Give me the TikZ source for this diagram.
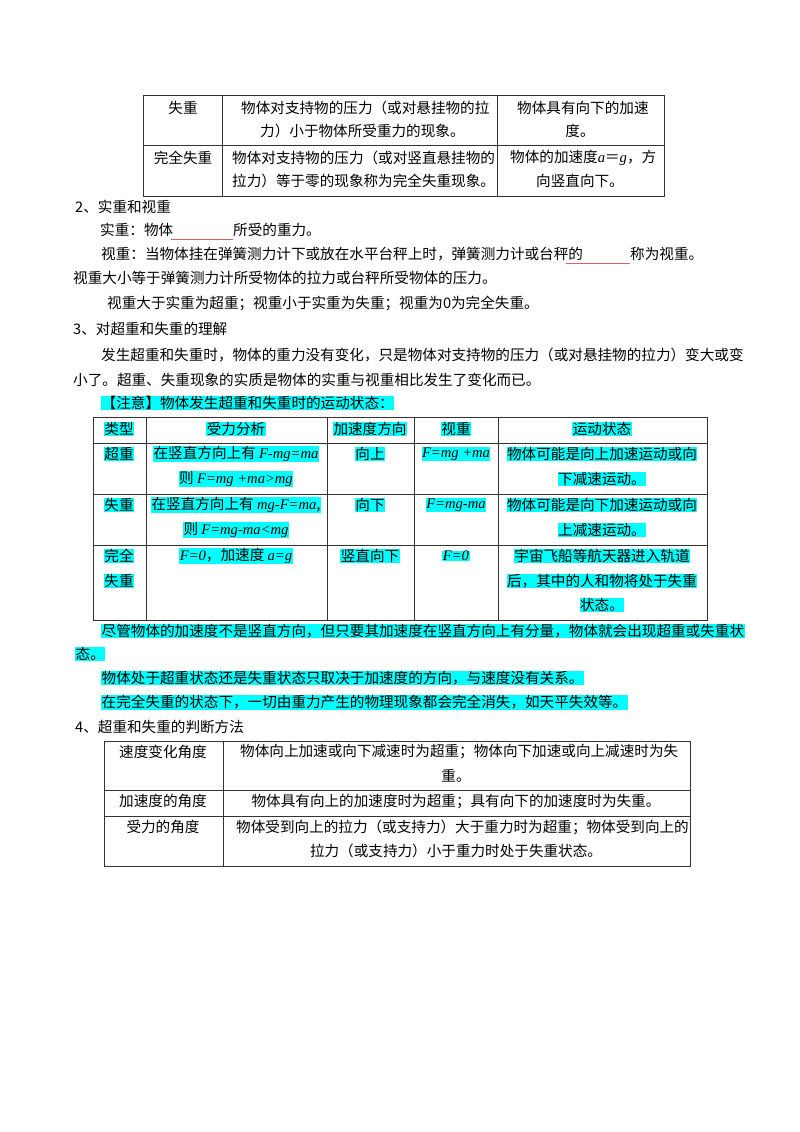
\documentclass[tikz,border=0pt]{standalone}
\usepackage{fontspec}
\setmainfont{Noto Sans CJK SC}
\newfontfamily\lat{Liberation Serif}
\newcommand{\mi}[1]{{\lat\itshape #1}}
\definecolor{hlcyan}{RGB}{0,255,255}
\definecolor{blankred}{RGB}{235,90,90}
\begin{document}
\begin{tikzpicture}[x=1pt,y=-1pt,font=\fontsize{14.6}{17}\selectfont,
  t/.style={inner sep=0pt,anchor=west},
  c/.style={inner sep=0pt,anchor=center},
  hl/.style={fill=hlcyan,inner sep=0.5pt},
  grid/.style={draw=black!80,line width=0.7pt},
  blank/.style={draw=blankred,line width=1pt}]
\useasboundingbox[fill=white] (0,0) rectangle (800,1132);
% table 1
\draw[grid] (143,95) rectangle (664,196);
\draw[grid] (143,145) -- (664,145) (222,95) -- (222,196) (497,95) -- (497,196);
\node[c] (a1) at (183,108) {失重};
\node[t] (a2) at (241,108) {物体对支持物的压力（或对悬挂物的拉};
\node[t] (a3) at (260,131) {力）小于物体所受重力的现象。};
\node[t] (a4) at (517,108) {物体具有向下的加速};
\node[c] (a5) at (580,131) {度。};
\node[c] (b1) at (183,158) {完全失重};
\node[t] (b2) at (232,158) {物体对支持物的压力（或对竖直悬挂物的};
\node[t] (b3) at (232,181) {拉力）等于零的现象称为完全失重现象。};
\node[t] (b4) at (510,158) {物体的加速度\mi{a}＝\mi{g}，方};
\node[t] (b5) at (536,181) {向竖直向下。};
% section 2
\node[t] (s2) at (75,207) {2、实重和视重};
\node[t] (l1) at (100,230) {实重：物体};
\coordinate (k1a) at (171,239); \coordinate (k1b) at (233,239);
\draw[blank] (k1a) -- (k1b);
\node[t] (l1b) at (233,230) {所受的重力。};
\node[t] (l2) at (101,254) {视重：当物体挂在弹簧测力计下或放在水平台秤上时，弹簧测力计或台秤的};
\coordinate (k2a) at (566,263); \coordinate (k2b) at (630,263);
\draw[blank] (k2a) -- (k2b);
\node[t] (l2b) at (630,254) {称为视重。};
\node[t] (l3) at (73,278) {视重大小等于弹簧测力计所受物体的拉力或台秤所受物体的压力。};
\node[t] (l4) at (107,303) {视重大于实重为超重；视重小于实重为失重；视重为0为完全失重。};
\node[t] (s3) at (73,329) {3、对超重和失重的理解};
\node[t] (l5) at (101,355) {发生超重和失重时，物体的重力没有变化，只是物体对支持物的压力（或对悬挂物的拉力）变大或变};
\node[t] (l6) at (73,380) {小了。超重、失重现象的实质是物体的实重与视重相比发生了变化而已。};
\node[t,hl] (l7) at (101,403) {【注意】物体发生超重和失重时的运动状态：};
% table 2
\draw[grid] (93,417) rectangle (707,620);
\draw[grid] (93,443) -- (707,443) (93,494) -- (707,494) (93,545) -- (707,545);
\draw[grid] (146,417) -- (146,620) (327,417) -- (327,620) (414,417) -- (414,620) (498,417) -- (498,620);
\node[c,hl] (h1) at (119,429) {类型};
\node[c,hl] (h2) at (236,429) {受力分析};
\node[c,hl] (h3) at (370,429) {加速度方向};
\node[c,hl] (h4) at (456,429) {视重};
\node[c,hl] (h5) at (602,429) {运动状态};
\node[c,hl] (r11) at (119,454) {超重};
\node[c,hl] (r12) at (236,454) {在竖直方向上有 \mi{F-mg=ma}};
\node[c,hl] (r12b) at (236,479) {则 \mi{F=mg +ma>mg}};
\node[c,hl] (r13) at (370,454) {向上};
\node[c,hl] (r14) at (456,454) {\mi{F=mg +ma}};
\node[c,hl] (r15) at (602,454) {物体可能是向上加速运动或向};
\node[c,hl] (r15b) at (602,479) {下减速运动。};
\node[c,hl] (r21) at (119,505) {失重};
\node[c,hl] (r22) at (236,505) {在竖直方向上有 \mi{mg-F=ma},};
\node[c,hl] (r22b) at (236,530) {则 \mi{F=mg-ma<mg}};
\node[c,hl] (r23) at (370,505) {向下};
\node[c,hl] (r24) at (456,505) {\mi{F=mg-ma}};
\node[c,hl] (r25) at (602,505) {物体可能是向下加速运动或向};
\node[c,hl] (r25b) at (602,530) {上减速运动。};
\node[c,hl] (r31) at (119,556) {完全};
\node[c,hl] (r31b) at (119,581) {失重};
\node[c,hl] (r32) at (236,556) {\mi{F=0}，加速度 \mi{a=g}};
\node[c,hl] (r33) at (370,556) {竖直向下};
\node[c,hl] (r34) at (456,556) {\mi{F=0}};
\node[c,hl] (r35) at (602,556) {宇宙飞船等航天器进入轨道};
\node[c,hl] (r35b) at (602,581) {后，其中的人和物将处于失重};
\node[c,hl] (r35c) at (602,605) {状态。};
% notes
\node[t,hl] (n1) at (101,631) {尽管物体的加速度不是竖直方向，但只要其加速度在竖直方向上有分量，物体就会出现超重或失重状};
\node[t,hl] (n1b) at (75,654) {态。};
\node[t,hl] (n2) at (101,678) {物体处于超重状态还是失重状态只取决于加速度的方向，与速度没有关系。};
\node[t,hl] (n3) at (101,702) {在完全失重的状态下，一切由重力产生的物理现象都会完全消失，如天平失效等。};
\node[t] (s4) at (75,727) {4、超重和失重的判断方法};
% table 3
\draw[grid] (104,741) rectangle (690,866);
\draw[grid] (104,790) -- (690,790) (104,816) -- (690,816) (223,741) -- (223,866);
\node[c] (d1) at (163,752) {速度变化角度};
\node[t] (d2) at (240,752) {物体向上加速或向下减速时为超重；物体向下加速或向上减速时为失};
\node[c] (d2b) at (456,776) {重。};
\node[c] (e1) at (163,801) {加速度的角度};
\node[c] (e2) at (456,801) {物体具有向上的加速度时为超重；具有向下的加速度时为失重。};
\node[c] (f1) at (163,827) {受力的角度};
\node[t] (f2) at (236,827) {物体受到向上的拉力（或支持力）大于重力时为超重；物体受到向上的};
\node[c] (f2b) at (456,851) {拉力（或支持力）小于重力时处于失重状态。};
\end{tikzpicture}
\end{document}
